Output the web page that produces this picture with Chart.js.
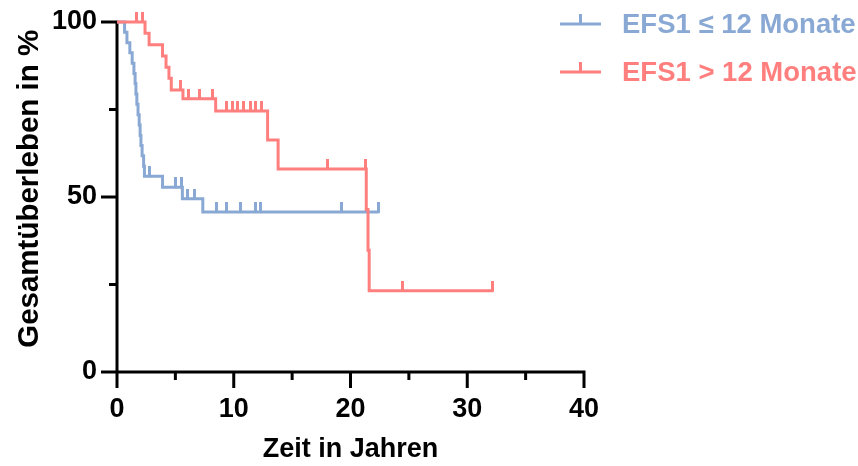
<!DOCTYPE html>
<html>
<head>
<meta charset="utf-8">
<script src="https://cdn.jsdelivr.net/npm/chart.js@4"></script>
<style>
  html, body { margin: 0; padding: 0; background: #fff; }
</style>
</head>
<body>
<canvas id="myChart" width="858" height="466"></canvas>
<script>
// Kaplan-Meier steps (time in years, survival in %)
var shortTimes = [0, 0.65, 0.85, 1.1, 1.3, 1.45, 1.55, 1.62, 1.7, 1.8, 1.9, 1.98, 2.05, 2.15, 2.28, 2.35, 3.9, 5.6, 7.35, 22.4]
var shortSurv  = [100, 97.1, 94.1, 91.2, 88.2, 85.3, 82.4, 79.4, 76.5, 73.5, 70.6, 67.6, 64.7, 61.8, 58.8, 55.9, 52.8, 49.5, 45.7, 45.7]
var shortCensTimes = [2.8, 5.0, 5.5, 6.05, 6.6, 8.55, 9.4, 10.6, 11.9, 12.3, 19.25, 22.4]
var shortCensSurv  = [55.9, 52.8, 52.8, 49.5, 49.5, 45.7, 45.7, 45.7, 45.7, 45.7, 45.7, 45.7]

var longTimes = [0, 2.4, 2.75, 3.9, 4.2, 4.45, 4.65, 5.65, 8.45, 12.9, 13.8, 21.35, 21.5, 21.6, 32.2]
var longSurv  = [100, 96.8, 93.5, 90.3, 87.1, 83.9, 80.6, 78.1, 74.6, 66.3, 58.0, 46.4, 34.8, 23.2, 23.2]
var longCensTimes = [1.7, 2.2, 5.45, 6.15, 7.1, 8.2, 9.4, 9.9, 10.35, 10.85, 11.4, 11.9, 12.4, 18.0, 21.25, 24.45, 32.2]
var longCensSurv  = [100, 100, 80.6, 78.1, 78.1, 78.1, 74.6, 74.6, 74.6, 74.6, 74.6, 74.6, 74.6, 58.0, 58.0, 23.2, 23.2]

var groupLabels = ['EFS1 \u2264 12 Monate', 'EFS1 > 12 Monate']
var yTicks = [0, 50, 100]
var xTicks = [0, 10, 20, 30, 40]

var BLUE = '#89a9d4'
var RED = '#ff7f7f'
var FONT = "'Liberation Sans', Arial, sans-serif"

function pts(xs, ys) {
    return xs.map(function(x, i) { return {x: x, y: ys[i]} })
}

// little vertical censor tick sitting on top of the line
function censorMark(color) {
    var c = document.createElement('canvas')
    c.width = 3
    c.height = 20
    var g = c.getContext('2d')
    g.fillStyle = color
    g.fillRect(0, 0, 3, 11)
    return c
}

var axesPlugin = {
    id: 'axes',
    beforeDatasetsDraw: function(chart) {
        var ctx = chart.ctx
        var xs = chart.scales.x, ys = chart.scales.y
        var x0 = xs.getPixelForValue(0), x40 = xs.getPixelForValue(40)
        var y0 = ys.getPixelForValue(0), y100 = ys.getPixelForValue(100)
        ctx.save()
        ctx.strokeStyle = '#000'
        ctx.lineWidth = 3
        ctx.lineCap = 'butt'
        ctx.beginPath()
        ctx.moveTo(x0, y100 - 1.5); ctx.lineTo(x0, y0 + 1.5)
        ctx.moveTo(x0 - 1.5, y0); ctx.lineTo(x40 + 1.5, y0)
        for (var v = 0; v <= 100; v += 25) {
            var py = ys.getPixelForValue(v)
            ctx.moveTo(x0, py); ctx.lineTo(x0 - (v % 50 === 0 ? 16 : 8), py)
        }
        for (var t = 0; t <= 40; t += 5) {
            var px = xs.getPixelForValue(t)
            ctx.moveTo(px, y0); ctx.lineTo(px, y0 + (t % 10 === 0 ? 16 : 8))
        }
        ctx.stroke()
        ctx.restore()
    }
}

var legendPlugin = {
    id: 'kmLegend',
    afterDraw: function(chart) {
        var ctx = chart.ctx
        var items = [[groupLabels[0], BLUE, 24], [groupLabels[1], RED, 72]]
        ctx.save()
        items.forEach(function(it) {
            ctx.strokeStyle = it[1]
            ctx.lineWidth = 3
            ctx.beginPath()
            ctx.moveTo(560, it[2]); ctx.lineTo(601, it[2])
            ctx.moveTo(580.5, it[2]); ctx.lineTo(580.5, it[2] - 10)
            ctx.stroke()
            ctx.fillStyle = it[1]
            ctx.font = 'bold 27.5px ' + FONT
            ctx.textBaseline = 'middle'
            ctx.fillText(it[0], 622, it[2] + 1)
        })
        ctx.restore()
    }
}

var ctx = document.getElementById('myChart')
var myChart = new Chart(ctx, {
    type: 'scatter',
    data: {
        datasets: [{
            data: pts(longTimes, longSurv),
            showLine: true, stepped: true,
            borderColor: RED, borderWidth: 3, pointRadius: 0,
            clip: false, order: 1
        }, {
            data: pts(longCensTimes, longCensSurv),
            showLine: false, pointStyle: censorMark(RED), pointRadius: 5,
            clip: false, order: 0
        }, {
            data: pts(shortTimes, shortSurv),
            showLine: true, stepped: true,
            borderColor: BLUE, borderWidth: 3, pointRadius: 0,
            clip: false, order: 3
        }, {
            data: pts(shortCensTimes, shortCensSurv),
            showLine: false, pointStyle: censorMark(BLUE), pointRadius: 5,
            clip: false, order: 2
        }]
    },
    options: {
        responsive: false,
        animation: false,
        layout: { padding: { left: 0, top: 22, right: 274, bottom: 0 } },
        plugins: { legend: { display: false }, tooltip: { enabled: false } },
        scales: {
            x: {
                type: 'linear', min: 0, max: 40,
                afterBuildTicks: function(s) { s.ticks = xTicks.map(function(v) { return {value: v} }) },
                ticks: { color: '#000', padding: 21, font: { family: FONT, size: 27, weight: 'bold' } },
                grid: { display: false, drawTicks: false },
                border: { display: false },
                title: { display: true, text: 'Zeit in Jahren', color: '#000', padding: 0,
                         font: { family: FONT, size: 27, weight: 'bold' } },
                afterFit: function(s) { s.height = 94; s.paddingLeft = 0; s.paddingRight = 0 }
            },
            y: {
                type: 'linear', min: 0, max: 100,
                afterBuildTicks: function(s) { s.ticks = yTicks.map(function(v) { return {value: v} }) },
                ticks: { color: '#000', padding: 20, font: { family: FONT, size: 27, weight: 'bold' } },
                grid: { display: false, drawTicks: false },
                border: { display: false },
                title: { display: true, text: '  Gesamtüberleben in %', color: '#000', padding: { top: 12, bottom: 0 },
                         font: { family: FONT, size: 29.5, weight: 'bold' } },
                afterFit: function(s) { s.width = 117; s.paddingTop = 0; s.paddingBottom = 0 }
            }
        }
    },
    plugins: [axesPlugin, legendPlugin]
})
</script>
</body>
</html>
